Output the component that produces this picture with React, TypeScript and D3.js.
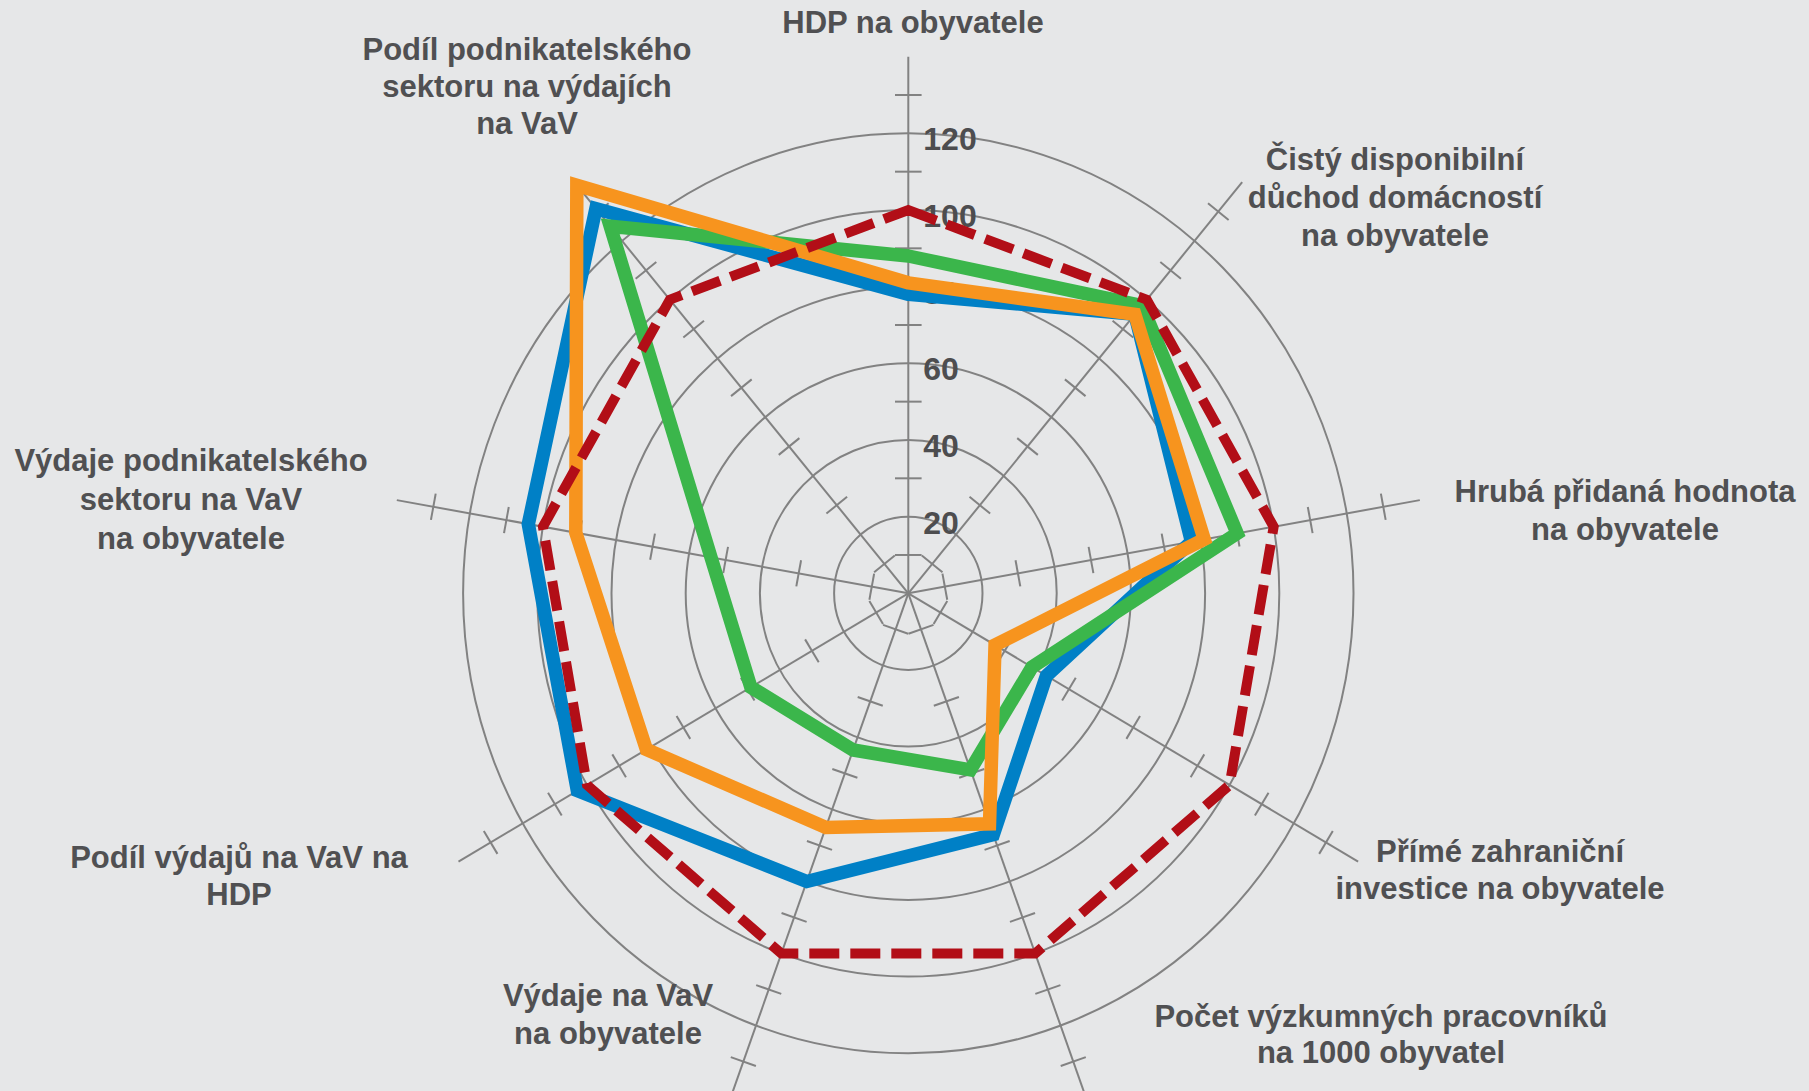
import React from 'react';
import * as d3 from 'd3';

// categories clockwise from the top, each split into its label lines
const categories: string[][] = [
  ['HDP na obyvatele'],
  ['Čistý disponibilní', 'důchod domácností', 'na obyvatele'],
  ['Hrubá přidaná hodnota', 'na obyvatele'],
  ['Přímé zahraniční', 'investice na obyvatele'],
  ['Počet výzkumných pracovníků', 'na 1000 obyvatel'],
  ['Výdaje na VaV', 'na obyvatele'],
  ['Podíl výdajů na VaV na', 'HDP'],
  ['Výdaje podnikatelského', 'sektoru na VaV', 'na obyvatele'],
  ['Podíl podnikatelského', 'sektoru na výdajích', 'na VaV'],
];

const reference = [100, 100, 100, 100, 100, 100, 100, 100, 100];
const blueValues = [78, 95, 77.5, 43, 67, 80, 103, 104, 131];
const greenValues = [88, 98, 90, 38.5, 49, 43.5, 49, 54, 125];
const orangeValues = [81, 95, 81, 27, 64, 65, 81.5, 91, 139];

const ringValues = [20, 40, 60, 80, 100, 120];
const ringLabels = ['20', '40', '60', '80', '100', '120'];
const tickValues = [10, 30, 50, 70, 90, 110, 130];
const axisMax = 140;

// label anchor (centre x, first baseline y, line height)
const labelPos: [number, number, number][] = [
  [913, 33, 37],
  [1395, 170, 38],
  [1625, 502, 38],
  [1500, 862, 37],
  [1381, 1027, 36],
  [608, 1006, 38],
  [239, 868, 37],
  [191, 471, 39],
  [527, 60, 37],
];

const W = 1809;
const H = 1091;
const cx = 908.3;
const cy = 593.3;

const rx = d3.scaleLinear().domain([0, axisMax]).range([0, 3.71 * axisMax]);
const ry = d3.scaleLinear().domain([0, axisMax]).range([0, 3.833 * axisMax]);
const angle = d3.scaleLinear().domain([0, categories.length]).range([0, 2 * Math.PI]);

const pt = (v: number, i: number): [number, number] => {
  const a = angle(i);
  return [cx + rx(v) * Math.sin(a), cy - ry(v) * Math.cos(a)];
};

const polygon = (vals: number[]) =>
  d3.line().curve(d3.curveLinearClosed)(vals.map((v, i) => pt(v, i))) || '';

const grid = '#828282';
const font = "'Liberation Sans', Arial, Helvetica, sans-serif";

export default function App() {
  const spokes = categories.map((_, i) => {
    const [x2, y2] = pt(axisMax, i);
    // visual direction of the spoke and its normal, for the tick marks
    const a = angle(i);
    const dx = rx(1) * Math.sin(a);
    const dy = -ry(1) * Math.cos(a);
    const len = Math.hypot(dx, dy);
    const nx = -dy / len;
    const ny = dx / len;
    const half = 13.3;
    return (
      <g key={i}>
        <line x1={cx} y1={cy} x2={x2} y2={y2} stroke={grid} strokeWidth={2} />
        {tickValues.map((t) => {
          const [px, py] = pt(t, i);
          return (
            <line
              key={t}
              x1={px - nx * half}
              y1={py - ny * half}
              x2={px + nx * half}
              y2={py + ny * half}
              stroke={grid}
              strokeWidth={2}
            />
          );
        })}
      </g>
    );
  });

  return (
    <svg
      width={W}
      height={H}
      style={{ position: 'absolute', left: 0, top: 0, display: 'block' }}
    >
      <rect x={0} y={0} width={W} height={H} fill="#e6e7e8" />
      {ringValues.map((v) => (
        <ellipse key={v} cx={cx} cy={cy} rx={rx(v)} ry={ry(v)} fill="none" stroke={grid} strokeWidth={2} />
      ))}
      {spokes}
      {ringValues.map((v, i) => (
        <text
          key={v}
          x={cx + 15}
          y={cy - ry(v) + 17}
          fontFamily={font}
          fontWeight="bold"
          fontSize={32}
          fill="#4d4d4f"
        >
          {ringLabels[i]}
        </text>
      ))}
      {categories.map((lines, i) => (
        <text
          key={i}
          fontFamily={font}
          fontWeight="bold"
          fontSize={31}
          fill="#505052"
          textAnchor="middle"
        >
          {lines.map((l, j) => (
            <tspan key={j} x={labelPos[i][0]} y={labelPos[i][1] + j * labelPos[i][2]}>
              {l}
            </tspan>
          ))}
        </text>
      ))}
      <path d={polygon(blueValues)} fill="none" stroke="#0080c6" strokeWidth={13.5} strokeLinejoin="miter" />
      <path d={polygon(greenValues)} fill="none" stroke="#3bb64b" strokeWidth={13.5} strokeLinejoin="miter" />
      <path d={polygon(orangeValues)} fill="none" stroke="#f7941e" strokeWidth={13.5} strokeLinejoin="miter" />
      <path
        d={polygon(reference)}
        fill="none"
        stroke="#b20e17"
        strokeWidth={10}
        strokeDasharray="30 11"
        strokeLinejoin="miter"
      />
    </svg>
  );
}
